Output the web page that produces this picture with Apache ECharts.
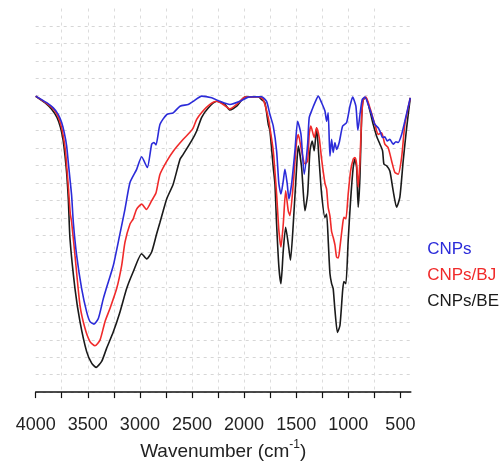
<!DOCTYPE html>
<html>
<head>
<meta charset="utf-8">
<script src="https://cdn.jsdelivr.net/npm/echarts@6/dist/echarts.min.js"></script>
<style>html,body{margin:0;padding:0;background:#fff}#c{width:501px;height:466px}</style>
</head>
<body>
<div id="c"></div>
<script>
// Series names
const seriesNames = ['CNPs', 'CNPs/BJ', 'CNPs/BE'];
// X tick / label values (wavenumber, cm-1)
const tickValues = [4000, 3750, 3500, 3250, 3000, 2750, 2500, 2250, 2000, 1750, 1500, 1250, 1000, 750, 500];
const labelValues = [4000, 3500, 3000, 2500, 2000, 1500, 1000, 500];

// CNPs (blue)
const cnpsWn = [4000,3895,3831,3783,3751,3726,3703,3687,3671,3655,3639,3607,3559,3511,3479,3441,3399,3351,3303,3255,3201,3143,3095,3031,2983,2929,2887,2865,2846,2807,2743,2680,2615,2536,2488,2407,2311,2232,2136,2040,1960,1896,1832,1784,1752,1720,1688,1666,1646,1624,1608,1586,1570,1544,1512,1486,1454,1423,1390,1375,1346,1320,1288,1256,1224,1208,1193,1176,1160,1145,1128,1112,1087,1054,1016,984,958,927,908,888,866,840,809,776,745,713,690,671,649,626,601,569,543,521,488,457,405];
const cnpsT  = [84.9,83.0,81.5,79.6,77.3,74.4,70.6,65.8,61.1,56.3,48.7,39.2,29.7,23.0,20.2,19.5,21.1,26.8,31.6,36.3,44.0,52.5,60.1,63.9,67.5,64.4,71.1,71.6,70.9,76.8,79.6,80.1,82.0,82.5,83.4,84.9,84.4,83.4,82.5,83.4,84.6,84.7,84.7,83.4,79.6,76.3,69.2,59.7,56.8,60.6,63.9,59.7,55.4,59.7,69.2,77.7,73.9,62.5,71.1,78.7,81.1,83.0,84.9,83.0,80.6,77.7,80.1,67.7,72.5,68.7,71.6,69.6,71.6,76.3,77.3,82.0,84.6,82.0,75.1,79.6,83.9,84.6,82.5,79.6,76.8,75.8,74.4,73.0,73.2,72.0,72.5,71.1,71.8,71.6,73.9,77.7,84.4];

// CNPs/BJ (red)
const bjWn = [4000,3895,3831,3786,3757,3735,3714,3700,3685,3668,3655,3623,3575,3527,3479,3431,3383,3335,3287,3223,3175,3143,3095,3064,3031,2983,2937,2887,2846,2807,2743,2680,2584,2520,2488,2455,2407,2328,2263,2200,2136,2071,1992,1864,1816,1768,1752,1720,1688,1666,1646,1624,1601,1576,1560,1528,1496,1480,1448,1416,1390,1375,1359,1327,1304,1279,1256,1224,1208,1193,1176,1160,1145,1128,1112,1095,1080,1054,1042,1023,1001,978,953,936,920,905,888,872,857,831,792,745,713,680,649,617,584,553,521,488,457,405];
const bjT  = [84.9,82.8,81.2,79.1,76.5,73.4,69.1,63.9,58.2,51.1,48.7,39.2,24.9,18.3,14.5,13.3,14.9,20.2,24.0,29.7,36.3,43.0,48.2,49.7,52.5,53.9,52.4,54.9,57.1,62.5,66.2,69.1,72.5,74.5,75.8,78.2,80.2,82.5,83.4,82.5,81.2,82.5,84.6,84.7,83.9,78.7,75.8,69.2,56.8,46.3,41.6,48.2,57.7,52.0,50.6,59.7,72.0,73.9,69.2,65.4,66.3,73.9,76.3,73.0,75.8,73.0,66.8,59.9,58.2,53.0,50.5,46.0,44.4,42.2,38.7,38.5,41.6,48.2,50.1,49.7,56.8,63.4,66.8,67.3,65.4,58.8,66.3,78.7,83.9,84.6,81.5,76.8,73.9,74.4,71.1,70.1,66.3,63.0,62.5,67.3,76.8,84.4];

// CNPs/BE (black)
const beWn = [4000,3895,3847,3796,3762,3738,3719,3702,3687,3671,3623,3575,3511,3463,3421,3367,3319,3255,3191,3127,3064,2983,2935,2887,2839,2807,2776,2743,2680,2615,2584,2503,2455,2407,2344,2263,2184,2136,2071,1992,1864,1832,1800,1768,1752,1720,1704,1688,1666,1646,1624,1601,1576,1555,1528,1496,1480,1448,1416,1390,1368,1346,1327,1304,1282,1256,1224,1208,1191,1176,1160,1145,1128,1104,1080,1054,1042,1023,1001,978,953,936,920,905,888,872,857,831,792,761,728,696,671,658,632,601,569,536,505,473,440,405];
const beT  = [84.8,82.6,81.1,78.8,75.9,72.5,67.9,62.5,55.4,44.0,29.7,20.2,11.6,8.3,7.1,8.8,12.6,17.3,23.0,29.7,34.5,39.7,38.2,40.2,45.4,48.7,52.0,55.4,59.7,66.8,68.2,72.1,74.9,78.8,81.5,83.4,82.5,80.9,82.0,84.6,84.7,83.9,83.0,76.8,74.9,64.4,59.7,48.2,35.9,31.1,40.6,47.3,42.5,37.8,48.2,64.4,70.6,64.4,52.0,56.8,69.2,72.0,69.2,75.8,67.3,56.8,50.1,51.1,42.5,34.0,31.1,29.7,23.5,17.1,19.1,29.2,31.7,31.1,43.5,54.9,64.4,66.8,64.4,53.0,61.6,78.7,83.9,84.4,80.6,76.8,73.4,71.1,69.2,65.4,64.9,63.4,57.7,53.0,55.9,66.3,75.8,84.4];

const colors = ['#2b2bd9', '#f02a2a', '#1a1a1a'];
const zip = (xs, ys) => xs.map((x, i) => [x, ys[i]]);
const seriesData = [zip(cnpsWn, cnpsT), zip(bjWn, bjT), zip(beWn, beT)];

const chart = echarts.init(document.getElementById('c'), null, {renderer: 'canvas'});
const font = '"Liberation Sans", Arial, sans-serif';
chart.setOption({
  backgroundColor: '#ffffff',
  animation: false,
  grid: {left: 35.7, right: 90.2, top: 8.56, bottom: 72, containLabel: false},
  legend: {
    orient: 'vertical',
    left: 415,
    top: 241,
    padding: 0,
    itemWidth: 0,
    itemHeight: 18,
    itemGap: 9,
    selectedMode: false,
    itemStyle: {opacity: 0},
    lineStyle: {opacity: 0},
    data: seriesNames.map((n, i) => ({name: n, textStyle: {color: colors[i], fontSize: 17, fontFamily: font}}))
  },
  xAxis: {
    type: 'value',
    inverse: true,
    min: 400,
    max: 4000,
    interval: 250,
    offset: 8,
    name: '{a|Wavenumber (cm}{s|-1}{a|)}',
    nameLocation: 'middle',
    nameGap: 38,
    nameTextStyle: {
      rich: {
        a: {fontSize: 19, fontFamily: font, color: '#222', verticalAlign: 'bottom'},
        s: {fontSize: 12, fontFamily: font, color: '#222', verticalAlign: 'top', padding: [0, 0, 10, 0]}
      }
    },
    axisLine: {show: true, lineStyle: {color: '#111', width: 1.5}},
    axisTick: {show: true, length: 6, inside: false, lineStyle: {color: '#111', width: 1.2}, customValues: tickValues},
    axisLabel: {
      show: true, margin: 16, fontSize: 18, fontFamily: font, color: '#222',
      customValues: labelValues,
      formatter: v => (v % 500 === 0 ? String(v) : '')
    },
    splitLine: {show: true, showMinLine: false, showMaxLine: false, lineStyle: {color: '#dcdcdc', width: 1, type: [3, 4]}}
  },
  yAxis: {
    type: 'value',
    min: 0,
    max: 110,
    interval: 5,
    axisLine: {show: false},
    axisTick: {show: false},
    axisLabel: {show: false},
    splitLine: {show: true, showMinLine: true, showMaxLine: false, lineStyle: {color: '#d6d6d6', width: 1, type: [3, 4]}}
  },
  series: seriesNames.map((n, i) => ({
    name: n,
    type: 'line',
    data: seriesData[i],
    showSymbol: false,
    symbol: 'none',
    smooth: 0.2,
    lineStyle: {color: colors[i], width: 1.6},
    itemStyle: {color: colors[i]},
    z: 3 - i
  }))
});
</script>
</body>
</html>
